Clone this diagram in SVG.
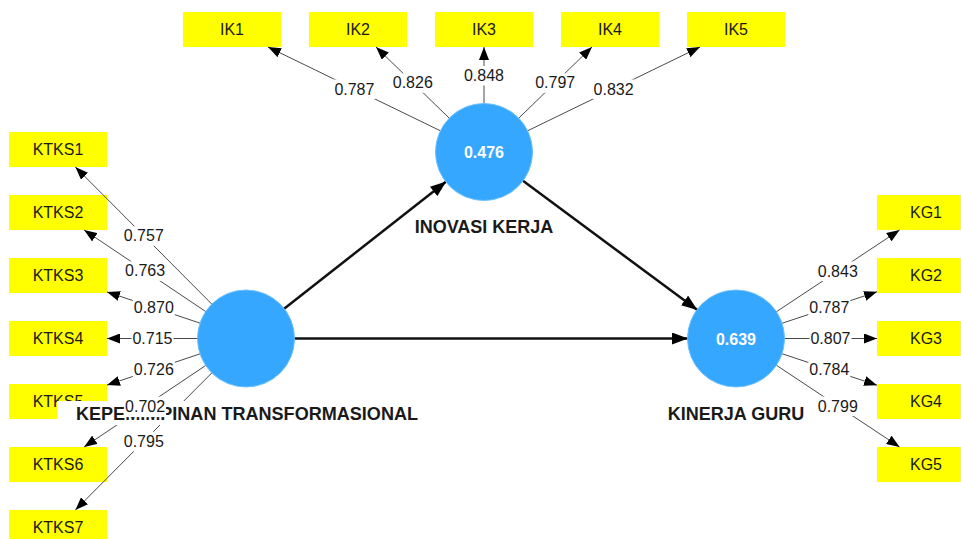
<svg xmlns="http://www.w3.org/2000/svg" width="961" height="539" viewBox="0 0 961 539">
  <style>
    .ind rect { fill: #ffff00; }
    .ind text { font-family: "Liberation Sans", Arial, sans-serif; font-size: 16px; fill: #1a1a1a; text-anchor: middle; }
    .load { stroke: #4a4a4a; stroke-width: 1; fill: none; marker-end: url(#arrowSmall); }
    .path { stroke: #111; stroke-width: 2.5; fill: none; marker-end: url(#arrowBig); }
    .lat circle { fill: #35a7ff; stroke: #6cc0ff; stroke-width: 1; }
    .lat .val { font-family: "Liberation Sans", Arial, sans-serif; font-size: 16px; font-weight: bold; fill: #ffffff; text-anchor: middle; }
    .lat .name { font-family: "Liberation Sans", Arial, sans-serif; font-size: 18px; font-weight: bold; fill: #1a1a1a; text-anchor: middle; }
    .bg { fill: #ffffff; }
    .lbl rect { fill: #ffffff; }
    .lbl text { font-family: "Liberation Sans", Arial, sans-serif; font-size: 16px; fill: #1a1a1a; text-anchor: middle; }
  </style>
  <defs>
    <marker id="arrowSmall" markerUnits="userSpaceOnUse" markerWidth="13" markerHeight="10" refX="13" refY="5" orient="auto">
      <path d="M0,0 L13,5 L0,10 z" fill="#000"/>
    </marker>
    <marker id="arrowBig" markerUnits="userSpaceOnUse" markerWidth="16" markerHeight="12" refX="16" refY="6" orient="auto">
      <path d="M0,0 L16,6 L0,12 z" fill="#000"/>
    </marker>
  </defs>
  <rect width="961" height="539" fill="#ffffff"/>

  <!-- indicator boxes -->
  <g id="KTKS1" class="ind"><rect x="9" y="132" width="98" height="35"/><text x="58" y="155">KTKS1</text></g>
  <g id="KTKS2" class="ind"><rect x="9" y="195" width="98" height="35"/><text x="58" y="218">KTKS2</text></g>
  <g id="KTKS3" class="ind"><rect x="9" y="258" width="98" height="35"/><text x="58" y="281">KTKS3</text></g>
  <g id="KTKS4" class="ind"><rect x="9" y="321" width="98" height="35"/><text x="58" y="344">KTKS4</text></g>
  <g id="KTKS5" class="ind"><rect x="9" y="384" width="98" height="35"/><text x="58" y="407">KTKS5</text></g>
  <g id="KTKS6" class="ind"><rect x="9" y="447" width="98" height="35"/><text x="58" y="470">KTKS6</text></g>
  <g id="KTKS7" class="ind"><rect x="9" y="510" width="98" height="35"/><text x="58" y="533">KTKS7</text></g>

  <g id="IK1" class="ind"><rect x="183" y="12" width="98" height="35"/><text x="232" y="35">IK1</text></g>
  <g id="IK2" class="ind"><rect x="309" y="12" width="98" height="35"/><text x="358" y="35">IK2</text></g>
  <g id="IK3" class="ind"><rect x="435" y="12" width="98" height="35"/><text x="484" y="35">IK3</text></g>
  <g id="IK4" class="ind"><rect x="561" y="12" width="98" height="35"/><text x="610" y="35">IK4</text></g>
  <g id="IK5" class="ind"><rect x="687" y="12" width="98" height="35"/><text x="736" y="35">IK5</text></g>

  <g id="KG1" class="ind"><rect x="877" y="195" width="98" height="35"/><text x="926" y="218">KG1</text></g>
  <g id="KG2" class="ind"><rect x="877" y="258" width="98" height="35"/><text x="926" y="281">KG2</text></g>
  <g id="KG3" class="ind"><rect x="877" y="321" width="98" height="35"/><text x="926" y="344">KG3</text></g>
  <g id="KG4" class="ind"><rect x="877" y="384" width="98" height="35"/><text x="926" y="407">KG4</text></g>
  <g id="KG5" class="ind"><rect x="877" y="447" width="98" height="35"/><text x="926" y="470">KG5</text></g>

  <!-- connectors -->
  <g id="connectors">
    <line class="load" x1="212.2" y1="304.5" x2="75.4" y2="167"/>
    <line class="load" x1="206.1" y1="311.8" x2="84.1" y2="230"/>
    <line class="load" x1="200.5" y1="323.3" x2="107" y2="291.9"/>
    <line class="load" x1="198" y1="338.5" x2="107" y2="338.5"/>
    <line class="load" x1="200.5" y1="353.7" x2="107" y2="385.1"/>
    <line class="load" x1="206.1" y1="365.2" x2="84.1" y2="447"/>
    <line class="load" x1="212.2" y1="372.5" x2="75.4" y2="510"/>

    <line class="load" x1="440.8" y1="131" x2="268" y2="47"/>
    <line class="load" x1="449.6" y1="118.5" x2="376" y2="47"/>
    <line class="load" x1="484" y1="104" x2="484" y2="47"/>
    <line class="load" x1="518.4" y1="118.5" x2="592" y2="47"/>
    <line class="load" x1="527.2" y1="131" x2="700" y2="47"/>

    <line class="load" x1="776" y1="312" x2="899.6" y2="230"/>
    <line class="load" x1="781.6" y1="323.4" x2="877" y2="291.8"/>
    <line class="load" x1="784" y1="338.5" x2="877" y2="338.5"/>
    <line class="load" x1="781.6" y1="353.6" x2="877" y2="385.2"/>
    <line class="load" x1="776" y1="365" x2="899.6" y2="447"/>

    <line class="path" x1="283.8" y1="308.9" x2="446.2" y2="181.6"/>
    <line class="path" x1="294" y1="338.5" x2="688" y2="338.5"/>
    <line class="path" x1="522.6" y1="180.6" x2="697.4" y2="310"/>
  </g>

  <!-- latent variables -->
  <g id="KT" class="lat">
    <circle cx="246" cy="338.5" r="48.5"/>
    <rect class="bg" x="57" y="401" width="380" height="24"/>
    <text class="name" x="247" y="420" textLength="342" lengthAdjust="spacingAndGlyphs">KEPEMIMPINAN TRANSFORMASIONAL</text>
  </g>
  <g id="IK" class="lat">
    <circle cx="484" cy="152" r="48.5"/>
    <text class="val" x="484" y="158">0.476</text>
    <text class="name" x="484" y="233">INOVASI KERJA</text>
  </g>
  <g id="KG" class="lat">
    <circle cx="736" cy="338.5" r="48.5"/>
    <text class="val" x="736" y="344.5">0.639</text>
    <text class="name" x="736" y="420">KINERJA GURU</text>
  </g>

  <!-- outer loadings -->
  <g id="loadings" class="lbl">
    <rect x="122.8" y="226.2" width="42" height="19.5"/><text x="143.8" y="241.2">0.757</text>
    <rect x="124.1" y="261.4" width="42" height="19.5"/><text x="145.1" y="276.4">0.763</text>
    <rect x="132.8" y="298.1" width="42" height="19.5"/><text x="153.8" y="313.1">0.870</text>
    <rect x="131.5" y="329" width="42" height="19.5"/><text x="152.5" y="344">0.715</text>
    <rect x="132.8" y="359.9" width="42" height="19.5"/><text x="153.8" y="374.9">0.726</text>
    <rect x="124.1" y="396.6" width="42" height="20.5"/><text x="145.1" y="411.6">0.702</text>
    <rect x="122.8" y="431.8" width="42" height="19.5"/><text x="143.8" y="446.8">0.795</text>

    <rect x="333.4" y="79.5" width="42" height="19.5"/><text x="354.4" y="94.5">0.787</text>
    <rect x="391.8" y="73.3" width="42" height="19.5"/><text x="412.8" y="88.3">0.826</text>
    <rect x="463" y="66" width="42" height="19.5"/><text x="484" y="81">0.848</text>
    <rect x="534.2" y="73.3" width="42" height="19.5"/><text x="555.2" y="88.3">0.797</text>
    <rect x="592.6" y="79.5" width="42" height="19.5"/><text x="613.6" y="94.5">0.832</text>

    <rect x="816.8" y="261.5" width="42" height="19.5"/><text x="837.8" y="276.5">0.843</text>
    <rect x="808.3" y="298.1" width="42" height="19.5"/><text x="829.3" y="313.1">0.787</text>
    <rect x="809.5" y="329" width="42" height="19.5"/><text x="830.5" y="344">0.807</text>
    <rect x="808.3" y="359.9" width="42" height="19.5"/><text x="829.3" y="374.9">0.784</text>
    <rect x="816.8" y="396.5" width="42" height="19.5"/><text x="837.8" y="411.5">0.799</text>
  </g>
</svg>
